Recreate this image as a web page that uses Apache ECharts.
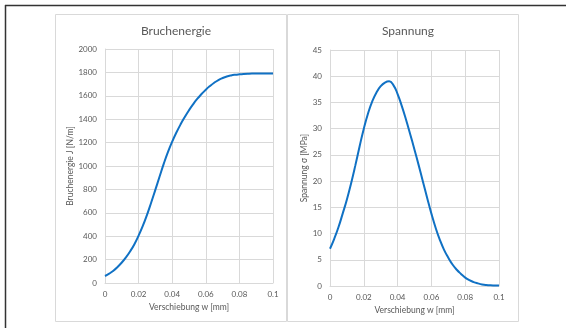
<!DOCTYPE html>
<html>
<head>
<meta charset="utf-8">
<script src="https://cdn.jsdelivr.net/npm/echarts@6/dist/echarts.min.js"></script>
<style>
  html, body { margin: 0; padding: 0; background: #fff; }
  #main { width: 566px; height: 328px; }
</style>
</head>
<body>
<div id="main"></div>
<script>
// Verschiebung w [mm]
var wValues = [0, 0.0025, 0.005, 0.0075, 0.01, 0.0125, 0.015, 0.0175, 0.02, 0.0225,
               0.025, 0.0275, 0.03, 0.0325, 0.035, 0.0375, 0.04, 0.0425, 0.045, 0.0475,
               0.05, 0.0525, 0.055, 0.0575, 0.06, 0.0625, 0.065, 0.0675, 0.07, 0.0725,
               0.075, 0.0775, 0.08, 0.0825, 0.085, 0.0875, 0.09, 0.0925, 0.095, 0.0975, 0.1];
// Bruchenergie J [N/m]
var energie = [60, 80, 105, 137, 175, 220, 272, 332, 405, 488,
               583, 688, 798, 910, 1020, 1120, 1208, 1286, 1356, 1419,
               1477, 1529, 1575, 1615, 1652, 1684, 1712, 1735, 1752, 1765,
               1774, 1780, 1784, 1787, 1789, 1790, 1790, 1790, 1790, 1790, 1790];
// Spannung sigma [MPa]
var spannung = [7.1, 9.0, 11.2, 13.8, 16.5, 19.6, 23.0, 26.6, 30.0, 32.9,
                35.2, 36.9, 38.1, 38.8, 39.05, 38.3, 36.6, 34.3, 31.7, 28.9,
                26.0, 23.0, 19.9, 16.8, 13.8, 11.1, 8.8, 6.9, 5.4, 4.1,
                3.1, 2.3, 1.6, 1.1, 0.75, 0.5, 0.3, 0.18, 0.12, 0.1, 0.08];

function pairs(xs, ys) {
    var out = [];
    for (var i = 0; i < xs.length; i++) out.push([xs[i], ys[i]]);
    return out;
}

var grau = '#595959';
var gitter = '#d9d9d9';
var schrift = 'Lato, "Open Sans", sans-serif';

function xAchse(idx) {
    return {
        type: 'value', gridIndex: idx, min: 0, max: 0.1, interval: 0.02,
        name: 'Verschiebung w [mm]', nameLocation: 'middle', nameGap: 18,
        nameTextStyle: { color: grau, fontSize: 8.5, fontFamily: schrift },
        axisLine: { lineStyle: { color: gitter } },
        axisTick: { show: false },
        axisLabel: { color: grau, fontSize: 8, fontFamily: schrift, margin: 7 },
        splitLine: { lineStyle: { color: gitter } }
    };
}

function yAchse(idx, name, max, step, gap) {
    return {
        type: 'value', gridIndex: idx, min: 0, max: max, interval: step,
        name: name, nameLocation: 'middle', nameGap: gap,
        nameTextStyle: { color: grau, fontSize: 8.5, fontFamily: schrift },
        axisLine: { show: true, lineStyle: { color: gitter } },
        axisTick: { show: false },
        axisLabel: { color: grau, fontSize: 8, fontFamily: schrift, margin: 8,
                     formatter: function (v) { return String(v); } },
        splitLine: { lineStyle: { color: gitter } }
    };
}

var myChart = echarts.init(document.getElementById('main'), null, { renderer: 'canvas' });
myChart.setOption({
    animation: false,
    backgroundColor: '#fff',
    title: [
        { text: 'Bruchenergie', left: 171, top: 20, textAlign: 'center',
          textStyle: { color: grau, fontSize: 12, fontWeight: 'normal', fontFamily: schrift } },
        { text: 'Spannung', left: 403, top: 20, textAlign: 'center',
          textStyle: { color: grau, fontSize: 12, fontWeight: 'normal', fontFamily: schrift } }
    ],
    graphic: [
        // Rahmen der Seite
        { type: 'line', shape: { x1: 5.5, y1: 5, x2: 5.5, y2: 328 }, style: { stroke: '#333', lineWidth: 1.5 } },
        { type: 'line', shape: { x1: 5, y1: 5.5, x2: 566, y2: 5.5 }, style: { stroke: '#333', lineWidth: 1.5 } },
        // Diagrammrahmen
        { type: 'rect', shape: { x: 55.5, y: 14.5, width: 231, height: 307 }, style: { fill: null, stroke: gitter, lineWidth: 1 } },
        { type: 'rect', shape: { x: 287.5, y: 14.5, width: 231, height: 307 }, style: { fill: null, stroke: gitter, lineWidth: 1 } }
    ],
    grid: [
        { left: 105, right: 293, top: 49, bottom: 45 },
        { left: 330, right: 67, top: 50, bottom: 42 }
    ],
    xAxis: [xAchse(0), xAchse(1)],
    yAxis: [
        yAchse(0, 'Bruchenergie J [N/m]', 2000, 200, 23),
        yAchse(1, 'Spannung σ [MPa]', 45, 5, 21)
    ],
    series: [
        { type: 'line', xAxisIndex: 0, yAxisIndex: 0, data: pairs(wValues, energie),
          smooth: true, showSymbol: false, lineStyle: { color: '#1071c4', width: 2 } },
        { type: 'line', xAxisIndex: 1, yAxisIndex: 1, data: pairs(wValues, spannung),
          smooth: true, showSymbol: false, lineStyle: { color: '#1071c4', width: 2 } }
    ]
});

window.addEventListener('resize', function () { myChart.resize(); });
</script>
</body>
</html>
